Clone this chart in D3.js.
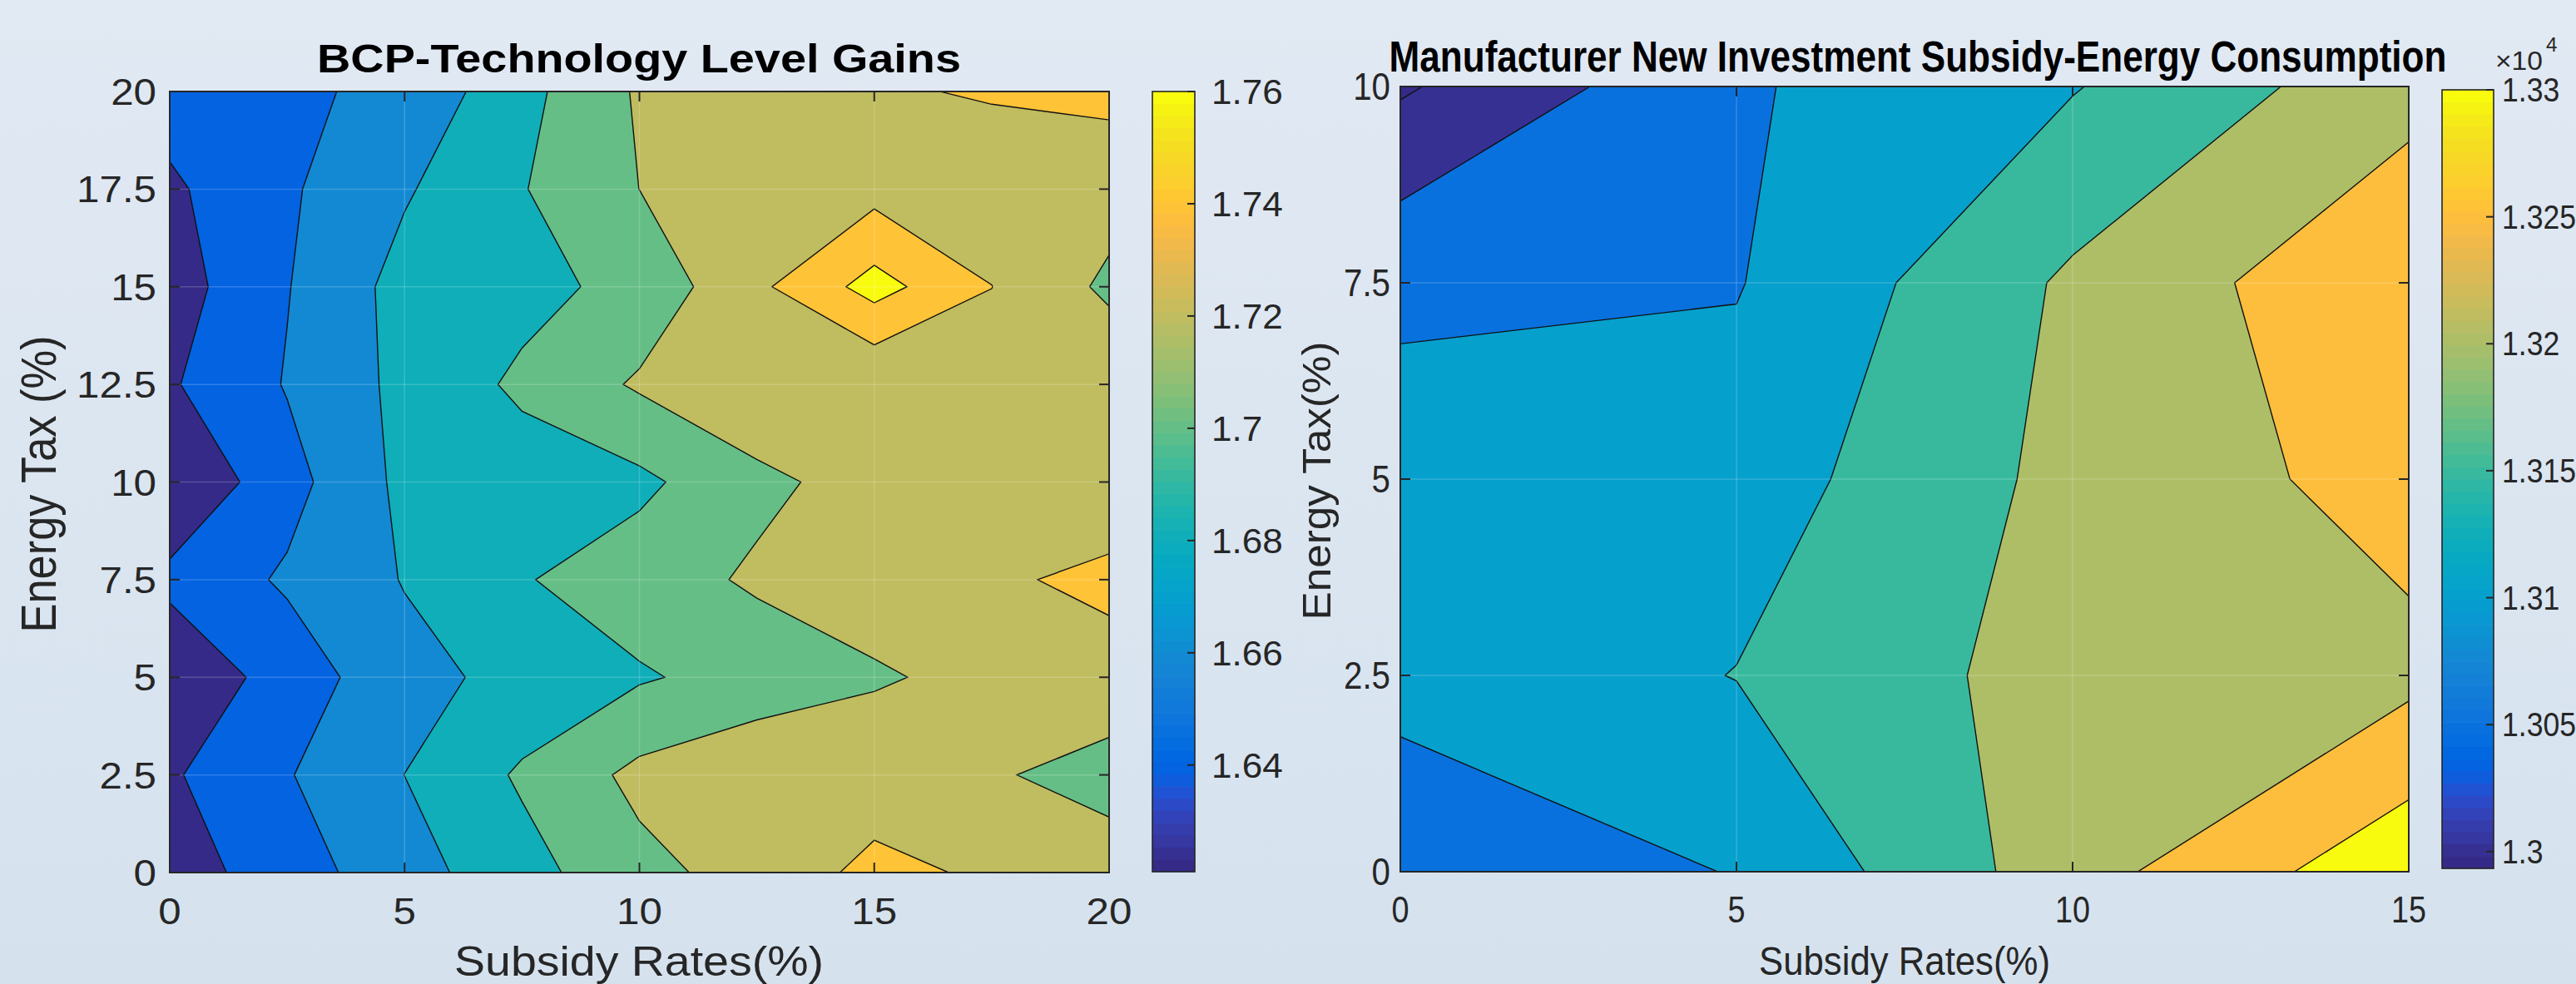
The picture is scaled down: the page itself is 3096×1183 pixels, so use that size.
<!DOCTYPE html>
<html><head><meta charset="utf-8">
<script src="https://cdn.jsdelivr.net/npm/d3@7"></script>
<style>html,body{margin:0;padding:0;background:#dbe5f0;}svg{display:block;}</style>
</head><body>
<svg id="chart" width="3096" height="1183"></svg>
<script>
// ================= DATA =================
// Left panel: BCP-Technology Level Gains
const leftTitle = "BCP-Technology Level Gains";
const leftXLabel = "Subsidy Rates(%)";
const leftYLabel = "Energy Tax (%)";
const leftX = [0, 2.5, 5, 7.5, 10, 12.5, 15, 17.5, 20];          // subsidy rate grid
const leftY = [0, 2.5, 5, 7.5, 10, 12.5, 15, 17.5, 20];          // energy tax grid
const leftZ = [                                                     // rows = energy tax
  [1.6300,1.6507,1.6720,1.6928,1.7142,1.7279,1.7450,1.7371,1.7345], // 0
  [1.6375,1.6587,1.6801,1.7027,1.7252,1.7360,1.7299,1.7230,1.7090], // 2.5
  [1.6237,1.6487,1.6737,1.6859,1.6979,1.7076,1.7183,1.7243,1.7376], // 5
  [1.6451,1.6628,1.6810,1.6986,1.7107,1.7229,1.7273,1.7391,1.7414], // 7.5
  [1.6210,1.6528,1.6849,1.6900,1.6955,1.7155,1.7275,1.7330,1.7361], // 10
  [1.6378,1.6613,1.6852,1.7038,1.7226,1.7349,1.7213,1.7300,1.7360], // 12.5
  [1.6307,1.6591,1.6870,1.6936,1.7064,1.7359,1.7676,1.7402,1.7160], // 15
  [1.6366,1.6573,1.6779,1.6989,1.7201,1.7280,1.7330,1.7300,1.7283], // 17.5
  [1.6487,1.6565,1.6648,1.6938,1.7224,1.7320,1.7381,1.7415,1.7448]  // 20
];
const leftLevels = [1.64, 1.66, 1.68, 1.70, 1.72, 1.74, 1.76];
const leftXTicks = [0, 5, 10, 15, 20];
const leftYTicks = [0, 2.5, 5, 7.5, 10, 12.5, 15, 17.5, 20];
const leftCbTicks = [1.64, 1.66, 1.68, 1.70, 1.72, 1.74, 1.76];

// Right panel: Manufacturer New Investment Subsidy-Energy Consumption
const rightTitle = "Manufacturer New Investment Subsidy-Energy Consumption";
const rightXLabel = "Subsidy Rates(%)";
const rightYLabel = "Energy Tax(%)";
const rightX = [0, 5, 10, 15];
const rightY = [0, 2.5, 5, 7.5, 10];
const rightZ = [
  [13078.0, 13101.3, 13229.2, 13336.5], // 0
  [13110.0, 13151.4, 13222.2, 13237.0], // 2.5
  [13121.5, 13124.7, 13214.9, 13269.2], // 5
  [13090.3, 13097.0, 13208.6, 13294.5], // 7.5
  [12993.4, 13093.7, 13147.0, 13232.5]  // 10
];
const rightLevels = [13000, 13050, 13100, 13150, 13200, 13250, 13300];
const rightXTicks = [0, 5, 10, 15];
const rightYTicks = [0, 2.5, 5, 7.5, 10];
const rightCbTicks = [13000, 13050, 13100, 13150, 13200, 13250, 13300];
const rightCbExponent = 4;

// parula colormap (64 entries)
const parula = [
[0.2081,0.1663,0.5292],[0.2116,0.1898,0.5777],[0.2123,0.2138,0.6270],[0.2081,0.2386,0.6771],
[0.1959,0.2645,0.7279],[0.1707,0.2919,0.7792],[0.1253,0.3242,0.8303],[0.0591,0.3598,0.8683],
[0.0117,0.3875,0.8820],[0.0060,0.4086,0.8828],[0.0165,0.4266,0.8786],[0.0329,0.4430,0.8720],
[0.0498,0.4586,0.8641],[0.0629,0.4737,0.8554],[0.0723,0.4887,0.8467],[0.0779,0.5040,0.8384],
[0.0793,0.5200,0.8312],[0.0749,0.5375,0.8263],[0.0641,0.5570,0.8240],[0.0488,0.5772,0.8228],
[0.0343,0.5966,0.8199],[0.0265,0.6137,0.8135],[0.0239,0.6287,0.8038],[0.0231,0.6418,0.7913],
[0.0228,0.6535,0.7768],[0.0267,0.6642,0.7607],[0.0384,0.6743,0.7436],[0.0590,0.6838,0.7254],
[0.0843,0.6928,0.7062],[0.1133,0.7015,0.6859],[0.1453,0.7098,0.6646],[0.1801,0.7177,0.6424],
[0.2178,0.7250,0.6193],[0.2586,0.7317,0.5954],[0.3022,0.7376,0.5712],[0.3482,0.7424,0.5473],
[0.3953,0.7459,0.5244],[0.4420,0.7481,0.5033],[0.4871,0.7491,0.4840],[0.5300,0.7491,0.4661],
[0.5709,0.7485,0.4494],[0.6099,0.7473,0.4337],[0.6473,0.7456,0.4188],[0.6834,0.7435,0.4044],
[0.7184,0.7411,0.3905],[0.7525,0.7384,0.3768],[0.7858,0.7356,0.3633],[0.8185,0.7327,0.3498],
[0.8507,0.7299,0.3360],[0.8824,0.7274,0.3217],[0.9139,0.7258,0.3063],[0.9450,0.7261,0.2886],
[0.9739,0.7314,0.2666],[0.9938,0.7455,0.2403],[0.9990,0.7653,0.2164],[0.9955,0.7861,0.1967],
[0.9880,0.8066,0.1794],[0.9789,0.8271,0.1633],[0.9697,0.8481,0.1475],[0.9626,0.8705,0.1309],
[0.9589,0.8949,0.1132],[0.9598,0.9218,0.0948],[0.9661,0.9514,0.0755],[0.9763,0.9831,0.0538]];
const parulaHex = parula.map(c => d3.rgb(c[0]*255, c[1]*255, c[2]*255).formatHex());

// ================= DRAW =================
const FONT = "'Liberation Sans', Arial, Helvetica, sans-serif";
const svg = d3.select("#chart");
const defs = svg.append("defs");
const bg = defs.append("linearGradient").attr("id","bg").attr("x1",0).attr("y1",0).attr("x2",0).attr("y2",1);
bg.append("stop").attr("offset","0%").attr("stop-color","#e1e9f3");
bg.append("stop").attr("offset","100%").attr("stop-color","#d5e2ee");
svg.append("rect").attr("width",3096).attr("height",1183).attr("fill","url(#bg)");

function addText(g, o) {
  const t = g.append("text")
    .attr("font-family", FONT)
    .attr("font-size", o.size)
    .attr("font-weight", o.weight || "normal")
    .attr("fill", o.fill || "#262626")
    .attr("text-anchor", o.anchor || "middle")
    .text(o.text);
  let sx = o.sx || 1;
  if (o.length) {
    const w = t.node().getComputedTextLength();
    t.attr("font-size", o.size * o.length / w);
  }
  if (o.width) {
    const w = t.node().getComputedTextLength();
    sx = o.width / w;
  }
  t.attr("transform", `translate(${o.x},${o.y}) scale(${sx},1)` + (o.rotate ? ` rotate(${o.rotate})` : ""));
  return t;
}

function drawPanel(c, id) {
  const g = svg.append("g");
  const nx = c.x.length, ny = c.y.length;
  const xs = d3.scaleLinear().domain([c.x[0], c.x[nx-1]]).range([c.plot.x0, c.plot.x1]);
  const ys = d3.scaleLinear().domain([c.y[0], c.y[ny-1]]).range([c.plot.y1, c.plot.y0]);
  const stepX = (c.x[nx-1]-c.x[0])/(nx-1), stepY = (c.y[ny-1]-c.y[0])/(ny-1);
  const values = c.z.flat();
  const cmin = d3.min(values), cmax = d3.max(c.levels);
  const cidx = v => Math.max(0, Math.min(63, Math.floor((v - cmin)/(cmax - cmin)*64 + 1e-9)));
  const colorOf = v => parulaHex[cidx(v)];

  defs.append("clipPath").attr("id", "clip"+id).append("rect")
    .attr("x", c.plot.x0).attr("y", c.plot.y0)
    .attr("width", c.plot.x1-c.plot.x0).attr("height", c.plot.y1-c.plot.y0);
  const pg = g.append("g").attr("clip-path", `url(#clip${id})`);
  pg.append("rect").attr("x", c.plot.x0).attr("y", c.plot.y0)
    .attr("width", c.plot.x1-c.plot.x0).attr("height", c.plot.y1-c.plot.y0)
    .attr("fill", colorOf(cmin));
  const proj = d3.geoTransform({point(px, py) {
    this.stream.point(xs(c.x[0] + (px-0.5)*stepX), ys(c.y[0] + (py-0.5)*stepY));
  }});
  const path = d3.geoPath(proj);
  const contours = d3.contours().size([nx, ny]).thresholds(c.levels)(values);
  pg.selectAll("path.band").data(contours).join("path")
    .attr("class","band")
    .attr("d", path)
    .attr("fill", d => colorOf(d.value))
    .attr("stroke", "#111")
    .attr("stroke-width", 1.4)
    .attr("stroke-linejoin", "miter");
  // faint seams at grid ticks
  c.xTicks.slice(1,-1).forEach(v => pg.append("line").attr("x1", xs(v)).attr("x2", xs(v))
    .attr("y1", c.plot.y0).attr("y2", c.plot.y1).attr("stroke","#fff").attr("stroke-opacity",0.18).attr("stroke-width",1.5));
  c.yTicks.slice(1,-1).forEach(v => pg.append("line").attr("y1", ys(v)).attr("y2", ys(v))
    .attr("x1", c.plot.x0).attr("x2", c.plot.x1).attr("stroke","#fff").attr("stroke-opacity",0.18).attr("stroke-width",1.5));

  // box + ticks
  const AX = "#262626";
  g.append("rect").attr("x", c.plot.x0).attr("y", c.plot.y0)
    .attr("width", c.plot.x1-c.plot.x0).attr("height", c.plot.y1-c.plot.y0)
    .attr("fill","none").attr("stroke", AX).attr("stroke-width", 2);
  const TL = 12;
  c.xTicks.forEach(v => {
    g.append("line").attr("x1", xs(v)).attr("x2", xs(v)).attr("y1", c.plot.y1).attr("y2", c.plot.y1-TL).attr("stroke",AX).attr("stroke-width",2);
    g.append("line").attr("x1", xs(v)).attr("x2", xs(v)).attr("y1", c.plot.y0).attr("y2", c.plot.y0+TL).attr("stroke",AX).attr("stroke-width",2);
    addText(g, {x: xs(v), y: c.xt.base, text: String(v), size: c.xt.size, sx: c.xt.sx});
  });
  c.yTicks.forEach(v => {
    g.append("line").attr("x1", c.plot.x0).attr("x2", c.plot.x0+TL).attr("y1", ys(v)).attr("y2", ys(v)).attr("stroke",AX).attr("stroke-width",2);
    g.append("line").attr("x1", c.plot.x1).attr("x2", c.plot.x1-TL).attr("y1", ys(v)).attr("y2", ys(v)).attr("stroke",AX).attr("stroke-width",2);
    addText(g, {x: c.yt.right, y: ys(v) + c.yt.dy, text: String(v), size: c.yt.size, sx: c.yt.sx, anchor: "end"});
  });

  // colorbar
  const cbS = d3.scaleLinear().domain([cmin, cmax]).range([c.cb.y1, c.cb.y0]);
  const h = (c.cb.y1 - c.cb.y0)/64;
  parulaHex.forEach((col, k) => {
    g.append("rect").attr("x", c.cb.x0).attr("y", c.cb.y1 - (k+1)*h - 0.3)
      .attr("width", c.cb.x1-c.cb.x0).attr("height", h + 0.6).attr("fill", col);
  });
  g.append("rect").attr("x", c.cb.x0).attr("y", c.cb.y0).attr("width", c.cb.x1-c.cb.x0)
    .attr("height", c.cb.y1-c.cb.y0).attr("fill","none").attr("stroke",AX).attr("stroke-width",1.6);
  c.cbTicks.forEach(v => {
    g.append("line").attr("x1", c.cb.x1).attr("x2", c.cb.x1-9).attr("y1", cbS(v)).attr("y2", cbS(v)).attr("stroke",AX).attr("stroke-width",2);
    addText(g, {x: c.cbt.left, y: cbS(v) + c.cbt.dy, text: c.cbFmt(v), size: c.cbt.size, sx: c.cbt.sx, anchor: "start"});
  });
  if (c.exp) {
    addText(g, {x: c.exp.x, y: c.exp.y, text: "\u00d710", size: c.exp.size, sx: c.exp.sx, anchor: "start"});
    addText(g, {x: c.exp.sx0, y: c.exp.sy, text: String(c.exp.v), size: c.exp.supSize, sx: c.exp.sx, anchor: "start"});
  }

  // titles and labels
  addText(g, {x: c.title.x, y: c.title.y, text: c.title.text, size: c.title.size, weight: "bold", fill: "#000", width: c.title.width});
  addText(g, {x: c.xl.x, y: c.xl.y, text: c.xl.text, size: c.xl.size, width: c.xl.width});
  addText(g, {x: c.yl.x, y: c.yl.y, text: c.yl.text, size: c.yl.size, length: c.yl.length, sx: c.yl.sx, rotate: -90});
}

drawPanel({
  x: leftX, y: leftY, z: leftZ, levels: leftLevels,
  xTicks: leftXTicks, yTicks: leftYTicks, cbTicks: leftCbTicks,
  cbFmt: v => String(+v.toFixed(2)),
  plot: {x0: 204, x1: 1333, y0: 110, y1: 1049},
  cb: {x0: 1385, x1: 1436, y0: 110, y1: 1048},
  xt: {base: 1111, size: 44, sx: 1.12},
  yt: {right: 188, dy: 16, size: 44, sx: 1.12},
  cbt: {left: 1456, dy: 15, size: 42, sx: 1.05},
  title: {x: 768, y: 87, text: leftTitle, size: 48, width: 774},
  xl: {x: 768, y: 1173, text: leftXLabel, size: 50, width: 444},
  yl: {x: 67, y: 582, text: leftYLabel, size: 51, length: 357, sx: 1.13}
}, "L");

drawPanel({
  x: rightX, y: rightY, z: rightZ, levels: rightLevels,
  xTicks: rightXTicks, yTicks: rightYTicks, cbTicks: rightCbTicks,
  cbFmt: v => String(+(v/Math.pow(10, rightCbExponent)).toFixed(3)),
  plot: {x0: 1683, x1: 2895, y0: 104, y1: 1048},
  cb: {x0: 2935, x1: 2997, y0: 108, y1: 1044},
  xt: {base: 1109, size: 45, sx: 0.84},
  yt: {right: 1671, dy: 16, size: 46, sx: 0.875},
  cbt: {left: 3007, dy: 14, size: 40, sx: 0.89},
  exp: {x: 2999, y: 84, size: 32, sx: 1.05, v: rightCbExponent, sx0: 3060, sy: 62, supSize: 23},
  title: {x: 2305, y: 86, text: rightTitle, size: 51, width: 1271},
  xl: {x: 2289, y: 1172, text: rightXLabel, size: 48, width: 350},
  yl: {x: 1599, y: 578, text: rightYLabel, size: 50, length: 335, sx: 0.93}
}, "R");
</script>
</body></html>
